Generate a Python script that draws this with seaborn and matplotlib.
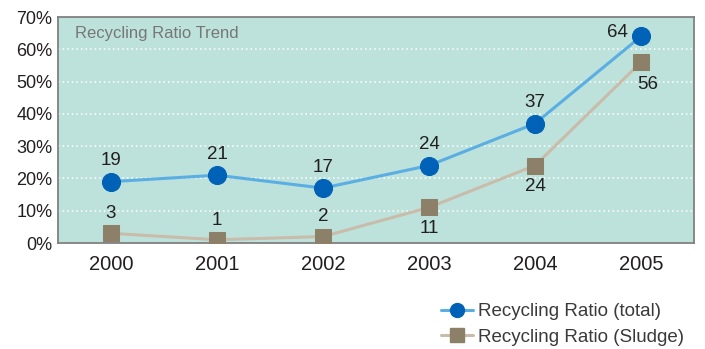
import matplotlib
matplotlib.use("Agg")
import matplotlib.pyplot as plt
from matplotlib.lines import Line2D
import seaborn as sns
import pandas as pd

years = ["2000", "2001", "2002", "2003", "2004", "2005"]
ratio_total = [19, 21, 17, 24, 37, 64]
ratio_sludge = [3, 1, 2, 11, 24, 56]
y_ticks = [0, 10, 20, 30, 40, 50, 60, 70]
series_names = ["Recycling Ratio (total)", "Recycling Ratio (Sludge)"]
title_text = "Recycling Ratio Trend"

df = pd.DataFrame({"pos": range(len(years)), "total": ratio_total, "sludge": ratio_sludge})

sns.set_theme(style="white")
plt.rcParams["font.family"] = ["Liberation Sans", "DejaVu Sans"]

BG = "#bde2db"
TOTAL_LINE, TOTAL_MARK = "#5aaee3", "#0062b6"
SLUDGE_LINE, SLUDGE_MARK = "#c9bcab", "#8c8068"
SPINE = "#808080"
TXT = "#231f20"

fig = plt.figure(figsize=(7.05, 3.49), dpi=100)
ax = fig.add_axes([58 / 705, 1 - 243 / 349, 636 / 705, 226 / 349])
ax.set_facecolor(BG)

sns.lineplot(data=df, x="pos", y="sludge", ax=ax, color=SLUDGE_LINE, linewidth=2.2,
             marker="s", markersize=12, markerfacecolor=SLUDGE_MARK,
             markeredgecolor=SLUDGE_MARK, zorder=3)
sns.lineplot(data=df, x="pos", y="total", ax=ax, color=TOTAL_LINE, linewidth=2.2,
             marker="o", markersize=13, markerfacecolor=TOTAL_MARK,
             markeredgecolor=TOTAL_MARK, zorder=4)

ax.set_xlim(-0.5, len(years) - 0.5)
ax.set_ylim(0, 70)
ax.set_xlabel("")
ax.set_ylabel("")

ax.set_yticks(y_ticks)
ax.set_yticklabels([f"{v}%" for v in y_ticks], fontsize=13, color=TXT)
ax.set_xticks(range(len(years)))
ax.set_xticklabels(years, fontsize=14.5, color=TXT)
ax.tick_params(axis="x", length=0, pad=9)
ax.tick_params(axis="y", length=5, direction="in", color=SPINE, width=1, pad=4)
ax.set_xticks([i + 0.5 for i in range(len(years) - 1)], minor=True)
ax.tick_params(axis="x", which="minor", length=5, direction="in", color=SPINE, width=1)

for v in y_ticks[1:-1]:
    ax.axhline(v, color="white", linestyle=(0, (1, 2)), linewidth=1.1, zorder=1)

for s in ax.spines.values():
    s.set_visible(True)
    s.set_color(SPINE)
    s.set_linewidth(1.3)

ax.text(0.026, 0.925, title_text, transform=ax.transAxes, fontsize=12, color="#777777",
        ha="left", va="center")

# value labels
LBL = dict(fontsize=13.5, color=TXT, textcoords="offset points", ha="center")
for i, v in enumerate(ratio_total):
    if i == len(ratio_total) - 1:
        ax.annotate(str(v), (i, v), xytext=(-17, 3), va="center", **LBL)
    else:
        ax.annotate(str(v), (i, v), xytext=(0, 9), va="bottom", **LBL)
for i, v in enumerate(ratio_sludge):
    if i < 3:
        ax.annotate(str(v), (i, v), xytext=(0, 8), va="bottom", **LBL)
    elif i == len(ratio_sludge) - 1:
        ax.annotate(str(v), (i, v), xytext=(5, -10), va="top", **LBL)
    else:
        ax.annotate(str(v), (i, v), xytext=(0, -9), va="top", **LBL)

handles = [
    Line2D([], [], color=TOTAL_LINE, linewidth=2.2, marker="o", markersize=10,
           markerfacecolor=TOTAL_MARK, markeredgecolor=TOTAL_MARK),
    Line2D([], [], color=SLUDGE_LINE, linewidth=2.2, marker="s", markersize=10.5,
           markerfacecolor=SLUDGE_MARK, markeredgecolor=SLUDGE_MARK),
]
fig.legend(handles, series_names, loc="center left", bbox_to_anchor=(441 / 705, 1 - 324.5 / 349),
           frameon=False, fontsize=13.5, handlelength=1.7, handletextpad=0.25,
           labelspacing=0.45, borderpad=0, borderaxespad=0, labelcolor="#3a3a3a")

fig.savefig("out.png", dpi=100)
